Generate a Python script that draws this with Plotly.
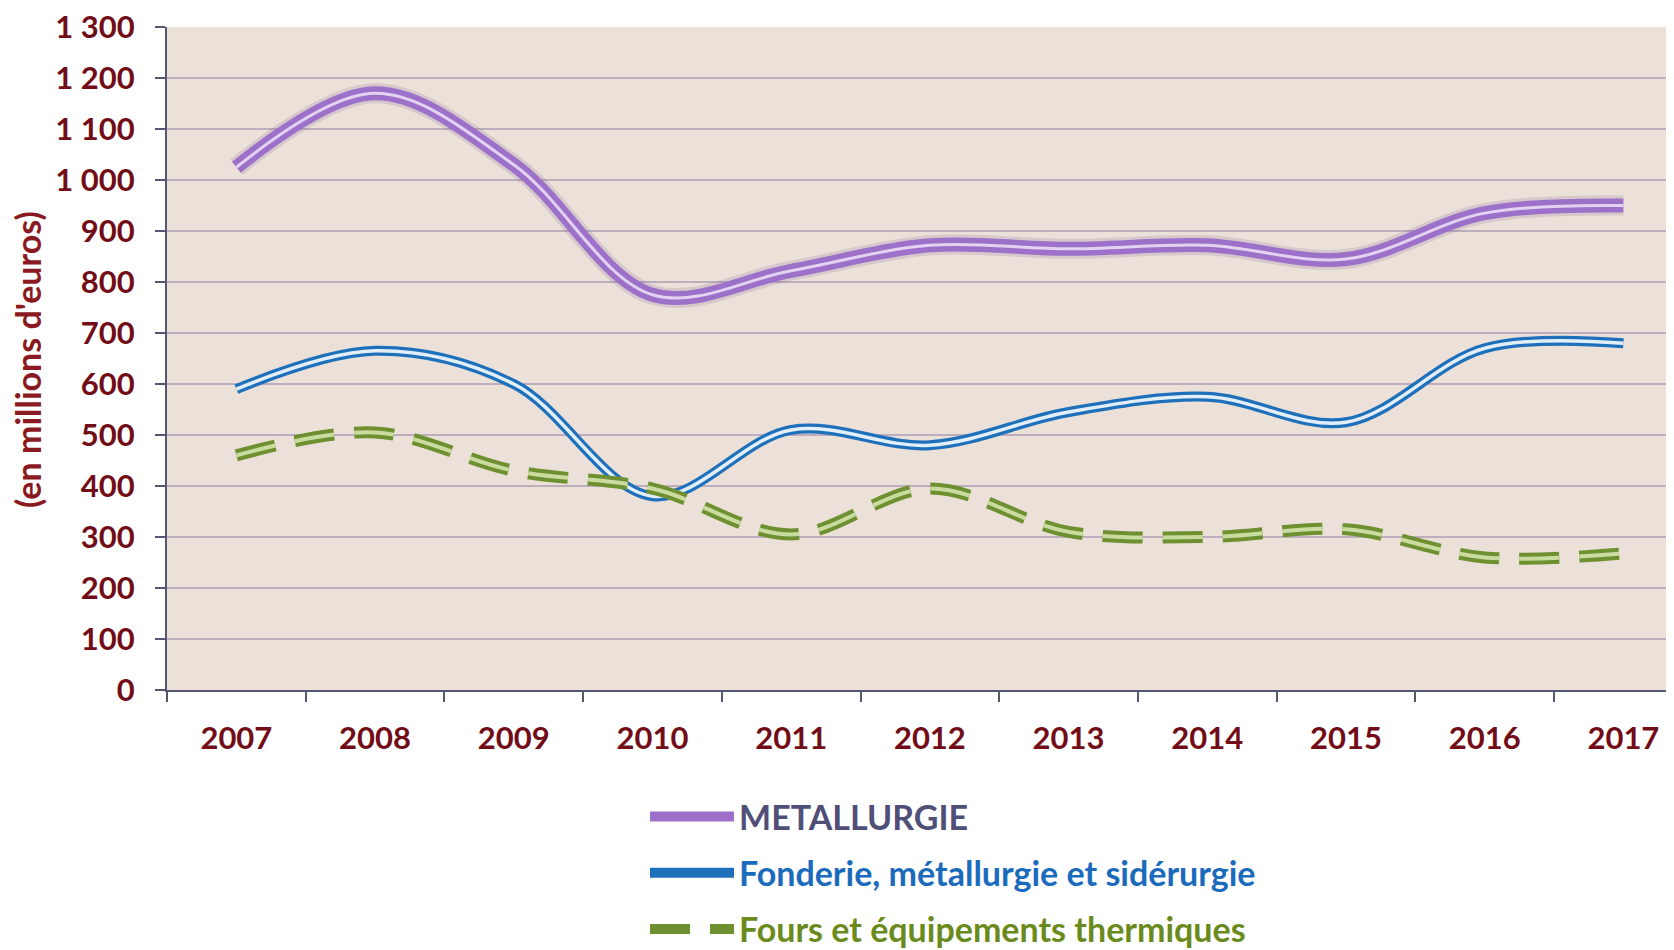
import plotly.graph_objects as go

years = ['2007', '2008', '2009', '2010', '2011', '2012', '2013', '2014', '2015', '2016', '2017']
metallurgie = [1025, 1170, 1030, 775, 822, 872, 865, 872, 845, 935, 950]
fonderie = [590, 665, 600, 380, 510, 480, 545, 575, 525, 670, 680]
fours = [460, 505, 430, 395, 305, 395, 310, 300, 315, 260, 268]

y_ticks = [0, 100, 200, 300, 400, 500, 600, 700, 800, 900, 1000, 1100, 1200, 1300]
y_ticktext = ['0', '100', '200', '300', '400', '500', '600', '700', '800', '900',
              '1 000', '1 100', '1 200', '1 300']

name_met = "<span style='color:#4f4f78'>METALLURGIE</span>"
name_fon = "<span style='color:#1b6bbd'>Fonderie, métallurgie et sidérurgie</span>"
name_fou = "<span style='color:#6a8a1c'>Fours et équipements thermiques</span>"

fig = go.Figure()

# METALLURGIE: soft shadow, thick purple, light highlight
fig.add_trace(go.Scatter(x=years, y=metallurgie, mode='lines', showlegend=False, hoverinfo='skip',
                         line=dict(color='rgba(120,90,140,0.18)', width=20, shape='spline', smoothing=1.0)))
fig.add_trace(go.Scatter(x=years, y=metallurgie, mode='lines', name=name_met, legendgroup='a',
                         line=dict(color='#9d70c9', width=14, shape='spline', smoothing=1.0)))
fig.add_trace(go.Scatter(x=years, y=metallurgie, mode='lines', showlegend=False, legendgroup='a', hoverinfo='skip',
                         line=dict(color='#e4d2f2', width=3, shape='spline', smoothing=1.0)))

# Fonderie: blue double line
fig.add_trace(go.Scatter(x=years, y=fonderie, mode='lines', name=name_fon, legendgroup='b',
                         line=dict(color='#1f70bb', width=10, shape='spline', smoothing=1.0)))
fig.add_trace(go.Scatter(x=years, y=fonderie, mode='lines', showlegend=False, legendgroup='b', hoverinfo='skip',
                         line=dict(color='#e2eef8', width=3.5, shape='spline', smoothing=1.0)))

# Fours: green dashed outlined line
fig.add_trace(go.Scatter(x=years, y=fours, mode='lines', name=name_fou, legendgroup='c',
                         line=dict(color='#6f9030', width=12, shape='spline', smoothing=1.0, dash='40px,20px')))
fig.add_trace(go.Scatter(x=years, y=fours, mode='lines', showlegend=False, legendgroup='c', hoverinfo='skip',
                         line=dict(color='#cadb9f', width=4, shape='spline', smoothing=1.0, dash='40px,20px')))

tick_font = dict(family='Lato', size=31, color='#720d18', weight='bold')

# page is offset 8px by the default body margin; figure coords below account for it
L, T, BOT = 159, 19, 682
W, H = 1666, 942
PW, PH = W - L, BOT - T

fig.update_layout(
    width=W, height=H,
    margin=dict(l=L, r=0, t=T, b=H - BOT, autoexpand=False),
    paper_bgcolor='white',
    plot_bgcolor='#ebe1d9',
    xaxis=dict(
        type='category', range=[-0.5, 10.365],
        tickson='boundaries', ticks='outside', ticklen=10, tickwidth=2, tickcolor='#56566e',
        showline=True, linecolor='#56566e', linewidth=2,
        showgrid=False, tickfont=tick_font, ticklabelstandoff=20,
        ticklabeloverflow='allow',
    ),
    yaxis=dict(
        range=[0, 1300], tickvals=y_ticks, ticktext=y_ticktext,
        ticks='outside', ticklen=10, tickwidth=2, tickcolor='#56566e',
        showline=True, linecolor='#56566e', linewidth=2,
        showgrid=True, gridcolor='#bcaebc', gridwidth=2,
        zeroline=False, tickfont=tick_font, ticklabelstandoff=14,
        ticklabeloverflow='allow',
    ),
    legend=dict(
        x=(637 - L) / PW, y=(BOT - 780) / PH, xanchor='left', yanchor='top',
        orientation='v', traceorder='grouped', tracegroupgap=9,
        font=dict(family='Lato', size=34, color='#4f4f78', weight='bold'),
        bgcolor='rgba(0,0,0,0)', itemwidth=84,
    ),
    annotations=[dict(
        text="(en millions d'euros)", textangle=-90,
        xref='paper', yref='paper', x=(19 - L) / PW, y=(BOT - 352) / PH,
        xanchor='center', yanchor='middle', showarrow=False,
        font=dict(family='Lato', size=34, color='#8a1a1f', weight='bold'),
    )],
)

fig.write_html('out.html')
